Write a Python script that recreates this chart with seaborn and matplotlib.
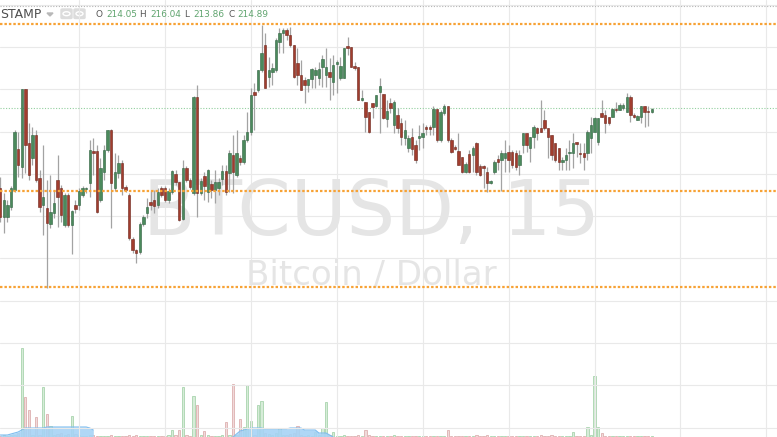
import numpy as np
import matplotlib
matplotlib.use("Agg")
import matplotlib.pyplot as plt
import seaborn as sns
from matplotlib.patches import FancyBboxPatch, Circle, Polygon

# BTCUSD 15 min candles (Bitstamp)
opens = [214.12, 213.83, 213.83, 213.93, 214.10, 214.51, 214.33, 215.11, 214.57, 214.42,
         214.65, 214.22, 213.95, 213.92, 213.76, 213.87, 214.20, 214.12, 213.75, 214.05,
         213.75, 213.95, 213.95, 214.05, 214.11, 214.17, 214.49, 214.49, 214.00, 214.28,
         214.50, 214.70, 214.12, 214.27, 214.37, 214.13, 214.05, 213.61, 213.50, 213.48,
         213.76, 213.87, 213.98, 214.00, 213.95, 214.12, 214.12, 214.00, 214.08, 214.26,
         214.18, 213.81, 214.32, 214.20, 214.07, 215.03, 214.07, 214.24, 214.08, 214.16,
         214.10, 214.12, 214.21, 214.29, 214.27, 214.45, 214.25, 214.42, 214.38, 214.60,
         214.68, 215.08, 215.10, 215.30, 215.55, 215.23, 215.28, 215.30, 215.58, 215.67,
         215.70, 215.65, 215.55, 215.37, 215.25, 215.20, 215.15, 215.21, 215.25, 215.22,
         215.33, 215.25, 215.28, 215.18, 215.36, 215.22, 215.22, 215.54, 215.53, 215.34,
         215.33, 215.00, 214.98, 214.88, 214.97, 214.94, 215.08, 215.06, 214.81, 214.97,
         214.75, 214.85, 214.77, 214.62, 214.52, 214.63, 214.55, 214.62, 214.63, 214.73,
         214.73, 214.73, 214.91, 214.60, 214.87, 214.94, 214.60, 214.53, 214.49, 214.43,
         214.28, 214.46, 214.45, 214.57, 214.34, 214.34, 214.28, 214.17, 214.28, 214.41,
         214.40, 214.42, 214.48, 214.48, 214.47, 214.35, 214.55, 214.67, 214.52, 214.63,
         214.72, 214.72, 214.80, 214.72, 214.65, 214.57, 214.52, 214.38, 214.40, 214.47,
         214.47, 214.58, 214.47, 214.47, 214.47, 214.62, 214.68, 214.58, 214.87, 214.85,
         214.83, 214.83, 214.91, 214.90, 214.92, 214.88, 215.03, 214.85, 214.80, 214.83,
         214.94, 214.89, 214.88]
closes = [213.83, 214.00, 213.95, 214.12, 214.68, 214.35, 215.11, 214.55, 214.25, 214.65,
          214.20, 213.93, 214.03, 213.77, 213.88, 213.97, 214.03, 213.85, 214.05, 213.75,
          213.89, 213.91, 214.09, 214.12, 214.12, 214.50, 214.47, 213.88, 214.32, 214.50,
          214.70, 214.17, 214.28, 214.37, 214.12, 214.10, 213.62, 213.50, 213.47, 213.76,
          213.83, 213.93, 213.95, 213.94, 214.08, 214.05, 214.00, 214.09, 214.29, 214.18,
          213.80, 214.32, 214.20, 214.13, 215.03, 214.07, 214.19, 214.14, 214.30, 214.10,
          214.18, 214.18, 214.29, 214.08, 214.47, 214.28, 214.47, 214.38, 214.60, 214.68,
          215.05, 215.05, 215.30, 215.47, 215.12, 215.30, 215.32, 215.60, 215.67, 215.70,
          215.65, 215.55, 215.23, 215.25, 215.10, 215.15, 215.21, 215.31, 215.30, 215.31,
          215.41, 215.33, 215.23, 215.35, 215.38, 215.34, 215.52, 215.52, 215.33, 215.32,
          215.00, 215.02, 214.83, 214.68, 214.93, 215.05, 215.14, 214.82, 214.89, 214.92,
          214.98, 214.72, 214.63, 214.70, 214.62, 214.51, 214.40, 214.64, 214.67, 214.71,
          214.71, 214.91, 214.60, 214.88, 214.94, 214.60, 214.48, 214.51, 214.35, 214.28,
          214.36, 214.28, 214.52, 214.28, 214.25, 214.32, 214.17, 214.19, 214.38, 214.38,
          214.47, 214.47, 214.40, 214.35, 214.33, 214.45, 214.67, 214.55, 214.63, 214.73,
          214.67, 214.68, 214.72, 214.63, 214.45, 214.40, 214.38, 214.40, 214.45, 214.48,
          214.57, 214.56, 214.46, 214.43, 214.68, 214.75, 214.82, 214.82, 214.83, 214.77,
          214.77, 214.91, 214.90, 214.95, 214.95, 215.03, 214.85, 214.83, 214.84, 214.94,
          214.88, 214.88, 214.91]
highs = [214.23, 214.07, 214.00, 214.14, 214.70, 214.68, 215.11, 215.11, 214.77, 214.73,
         214.70, 214.30, 214.55, 214.20, 214.25, 214.10, 214.45, 214.15, 214.07, 214.07,
         213.90, 214.00, 214.12, 214.14, 214.13, 214.60, 214.62, 214.55, 214.42, 214.55,
         214.70, 214.71, 214.47, 214.45, 214.40, 214.15, 214.07, 213.63, 213.51, 213.78,
         213.85, 214.02, 214.10, 214.10, 214.12, 214.14, 214.14, 214.12, 214.30, 214.30,
         214.18, 214.40, 214.34, 214.22, 215.04, 215.15, 214.22, 214.28, 214.31, 214.20,
         214.30, 214.22, 214.35, 214.35, 214.50, 214.65, 214.70, 214.45, 214.65, 214.88,
         215.12, 215.17, 215.30, 215.75, 215.67, 215.43, 215.37, 215.62, 215.72, 215.72,
         215.72, 215.73, 215.55, 215.52, 215.40, 215.23, 215.21, 215.32, 215.33, 215.38,
         215.45, 215.52, 215.42, 215.45, 215.40, 215.43, 215.52, 215.63, 215.53, 215.38,
         215.33, 215.10, 214.98, 214.88, 214.97, 215.05, 215.22, 215.06, 215.00, 215.02,
         215.00, 214.92, 214.82, 214.80, 214.65, 214.72, 214.60, 214.75, 214.77, 214.75,
         214.75, 214.94, 214.91, 214.90, 214.96, 214.94, 214.62, 214.55, 214.67, 214.43,
         214.38, 214.50, 214.54, 214.58, 214.36, 214.35, 214.33, 214.20, 214.40, 214.45,
         214.50, 214.60, 214.55, 214.50, 214.50, 214.50, 214.67, 214.67, 214.63, 214.75,
         214.73, 215.00, 214.90, 214.72, 214.65, 214.57, 214.52, 214.43, 214.52, 214.60,
         214.67, 214.58, 214.57, 214.57, 214.70, 214.83, 214.83, 214.82, 215.00, 214.90,
         214.83, 214.92, 214.98, 214.97, 214.97, 215.07, 215.05, 214.87, 214.85, 214.94,
         214.94, 214.94, 214.92]
lows = [213.78, 213.67, 213.78, 213.90, 214.08, 214.23, 214.22, 214.27, 214.20, 214.35,
        214.18, 213.88, 213.65, 213.12, 213.72, 213.82, 213.73, 213.78, 213.73, 213.73,
        213.46, 213.87, 213.90, 214.03, 214.07, 214.03, 214.25, 213.87, 213.98, 214.20,
        214.48, 213.72, 214.09, 214.22, 214.05, 214.08, 213.60, 213.47, 213.37, 213.46,
        213.74, 213.82, 213.90, 213.87, 213.92, 214.03, 213.98, 213.97, 214.06, 214.15,
        213.79, 213.80, 214.18, 214.11, 214.05, 213.83, 214.05, 214.00, 213.98, 214.02,
        213.97, 214.05, 214.15, 214.05, 214.08, 214.07, 214.23, 214.35, 214.36, 214.58,
        214.65, 214.70, 215.08, 215.28, 215.12, 215.13, 215.15, 215.28, 215.47, 215.47,
        215.60, 215.53, 215.22, 215.15, 215.10, 214.97, 215.08, 215.12, 215.12, 215.15,
        215.13, 215.13, 215.00, 215.05, 215.07, 215.20, 215.22, 215.45, 215.33, 215.30,
        215.00, 214.99, 214.68, 214.67, 214.82, 214.93, 214.67, 214.81, 214.73, 214.87,
        214.67, 214.67, 214.55, 214.55, 214.48, 214.45, 214.37, 214.50, 214.52, 214.65,
        214.65, 214.65, 214.58, 214.58, 214.85, 214.58, 214.47, 214.50, 214.35, 214.27,
        214.27, 214.27, 214.28, 214.25, 214.24, 214.12, 214.08, 214.16, 214.26, 214.30,
        214.09, 214.28, 214.28, 214.32, 214.30, 214.25, 214.47, 214.48, 214.38, 214.52,
        214.60, 214.68, 214.70, 214.42, 214.40, 214.38, 214.30, 214.30, 214.30, 214.30,
        214.32, 214.43, 214.37, 214.30, 214.40, 214.47, 214.68, 214.55, 214.83, 214.67,
        214.75, 214.83, 214.88, 214.90, 214.90, 214.88, 214.78, 214.82, 214.80, 214.77,
        214.73, 214.74, 214.87]
volumes = [10, 20, 10, 20, 20, 40, 890, 400, 270, 20,
           200, 20, 500, 230, 110, 20, 30, 40, 20, 30,
           210, 30, 20, 10, 10, 20, 20, 10, 10, 10,
           10, 20, 10, 10, 10, 10, 20, 10, 20, 10,
           10, 10, 10, 10, 10, 10, 10, 20, 70, 20,
           70, 500, 20, 10, 410, 320, 20, 60, 20, 10,
           10, 10, 20, 150, 20, 530, 20, 180, 100, 520,
           160, 20, 320, 360, 40, 30, 20, 40, 90, 20,
           20, 30, 40, 110, 20, 10, 20, 10, 50, 20,
           90, 350, 20, 50, 10, 10, 20, 10, 10, 10,
           20, 10, 70, 20, 10, 10, 10, 10, 10, 10,
           20, 10, 10, 10, 10, 10, 10, 10, 10, 10,
           10, 10, 10, 10, 10, 70, 10, 10, 10, 10,
           10, 10, 10, 20, 10, 10, 20, 10, 10, 10,
           10, 10, 10, 10, 10, 10, 10, 10, 10, 10,
           10, 20, 10, 10, 20, 10, 10, 10, 10, 10,
           50, 10, 10, 10, 100, 20, 610, 100, 40, 10,
           10, 10, 10, 10, 10, 10, 10, 10, 10, 10,
           10, 10, 10]
# visible parts of the volume moving average (rest is below the frame)
vol_ma_a = [20, 20, 20, 30, 40, 50, 70, 90, 90, 90, 90, 90, 90, 100, 100, 100, 100, 100,
            100, 100, 100, 100, 100, 100, 100, 90, 70]
vol_ma_a_start = 0
vol_ma_b = [0, 30, 60, 70, 80, 90, 90, 90, 90, 80, 80, 80, 80, 80, 80, 80, 90, 90, 90, 90,
            70, 70, 70, 70, 40, 40, 40, 20, 0]
vol_ma_b_start = 65

# horizontal levels drawn on the chart
levels = [215.76, 214.09, 213.13]
last_price = 214.92
header_vals = ["214.05", "216.04", "213.86", "214.89"]
header_keys = ["O", "H", "L", "C"]

W, H = 777, 437
sns.set_theme(style="white")
plt.rcParams["font.family"] = ["DejaVu Sans"]

fig = plt.figure(figsize=(W / 100, H / 100), dpi=100)
ax = fig.add_axes([0, 0, 1, 1])
axv = ax.twinx()
ax.set_zorder(axv.get_zorder() + 1)
ax.patch.set_visible(False)

o = np.array(opens)
c = np.array(closes)
hi = np.maximum(np.array(highs), np.maximum(o, c))
lo = np.minimum(np.array(lows), np.minimum(o, c))
x = np.arange(len(o))
up = c >= o

green, red = "#4b8a5c", "#a13d2e"
green_e, red_e = "#2f6140", "#6e241a"

# volume pane (behind)
vol_col = np.where(up, "#d6ecd8", "#f0dada")
vol_edge = np.where(up, "#a9d4ae", "#ddb0b0")
axv.bar(x, volumes, width=0.65, color=vol_col, edgecolor=vol_edge, linewidth=0.6)
for start, vals in [(vol_ma_a_start, vol_ma_a), (vol_ma_b_start, vol_ma_b)]:
    xs = np.arange(start, start + len(vals))
    axv.fill_between(xs, 0, vals, color="#a6d3f5", alpha=0.9, linewidth=0)
    sns.lineplot(x=xs, y=vals, ax=axv, color="#7fbdef", linewidth=0.8)
axv.set_ylim(0, 4370)
axv.set_yticks([])
for s in axv.spines.values():
    s.set_visible(False)

# grid
grid_x = np.arange(22, 217, 24)
grid_y = 216.0 - (4.6 + 42.3 * np.arange(11)) / 100
ax.set_xticks(grid_x)
ax.set_yticks(grid_y)
ax.tick_params(length=0, labelleft=False, labelbottom=False, labelright=False)
ax.grid(True, color="#e9e9e9", linewidth=0.8)
ax.set_axisbelow(True)
for s in ax.spines.values():
    s.set_visible(False)

# watermark
ax.text(371 / W, 1 - 235 / H, "BTCUSD, 15", transform=fig.transFigure, ha="center",
        va="baseline", fontsize=55, color="#e5e5e5", zorder=1)
ax.text(371 / W, 1 - 285 / H, "Bitcoin / Dollar", transform=fig.transFigure, ha="center",
        va="baseline", fontsize=24.5, color="#e5e5e5", zorder=1)

# candles
ax.vlines(x, lo, hi, color="#a3a3a3", linewidth=0.9, zorder=3)
body = np.maximum(np.abs(c - o), 0.012)
ax.bar(x, body, bottom=np.minimum(o, c), width=0.68,
       color=np.where(up, green, red), edgecolor=np.where(up, green_e, red_e),
       linewidth=0.4, zorder=4)

# drawn levels
for lv in levels:
    ax.axhline(lv, color="#f7a235", linewidth=1.6, linestyle=(0, (1.1, 0.9)), zorder=5)
ax.axhline(last_price, color="#93cf9f", linewidth=0.8, linestyle=(0, (1, 1.5)), zorder=2)
ax.axhline(215.94, color="#b5b5b5", linewidth=0.8, linestyle=(0, (1, 1.5)), zorder=2)

ax.set_xlim(-0.067, 216.97)
ax.set_ylim(211.63, 216.00)

# header
fig.text(0.5 / W, 1 - 18.3 / H, "STAMP", fontsize=8.9, color="#4d4d4d", va="baseline")
fig.add_artist(Polygon([[47 / W, 1 - 13 / H], [53 / W, 1 - 13 / H], [50 / W, 1 - 16 / H]],
                       closed=True, color="#b8b8b8", transform=fig.transFigure))
for bx in [61, 74]:
    fig.add_artist(FancyBboxPatch((bx / W, 1 - 18.5 / H), 11 / W, 9.5 / H,
                                  boxstyle="round,pad=0,rounding_size=0.002",
                                  color="#dcdcdc", transform=fig.transFigure))
    fig.add_artist(Circle(((bx + 5.5) / W, 1 - 13.7 / H), 0.0045,
                          facecolor="none", edgecolor="white", linewidth=1,
                          transform=fig.transFigure))
key_x = [96, 139, 184, 228]
val_x = [106, 150, 193, 237]
for k, v, kx, vx in zip(header_keys, header_vals, key_x, val_x):
    fig.text(kx / W, 1 - 17.3 / H, k, fontsize=6.4, color="#555555", va="baseline")
    fig.text(vx / W, 1 - 17.3 / H, v, fontsize=6.4, color="#5fa46e", va="baseline")

fig.savefig("out.png", dpi=100)
